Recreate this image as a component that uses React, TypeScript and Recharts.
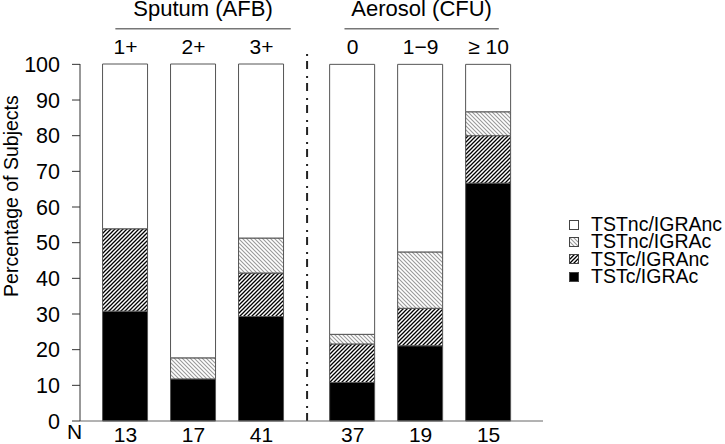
import { BarChart, Bar, XAxis, YAxis, Legend, ReferenceLine, Label } from 'recharts';

const categories = ['1+', '2+', '3+', '0', '1\u22129', '\u2265 10'];
const groupNames = ['Sputum (AFB)', 'Aerosol (CFU)'];
const groupOf = [0, 0, 0, 1, 1, 1];
const nValues = [13, 17, 41, 37, 19, 15];

// percentages, bottom of the stack first
const tstcIgrac = [30.8, 11.8, 29.3, 10.8, 21.1, 66.7];
const tstcIgranc = [23.1, 0, 12.2, 10.8, 10.5, 13.3];
const tstncIgrac = [0, 5.9, 9.8, 2.7, 15.8, 6.7];
const tstncIgranc = [46.2, 82.4, 48.8, 75.7, 52.6, 13.3];
const yTicks = [0, 10, 20, 30, 40, 50, 60, 70, 80, 90, 100];

const GROUP_GAP = 0.34;
const positions = categories.map((_, i) => i + groupOf[i] * GROUP_GAP);

const data = categories.map((cat, i) => ({
  pos: positions[i],
  cat,
  n: nValues[i],
  tstcIgrac: tstcIgrac[i],
  tstcIgranc: tstcIgranc[i],
  tstncIgrac: tstncIgrac[i],
  tstncIgranc: tstncIgranc[i],
}));

const font = '"Liberation Sans", Arial, sans-serif';
const divider = (positions[2] + positions[3]) / 2;
const groupSpans = [
  [positions[0] - 0.15, positions[2] + 0.43],
  [positions[3] - 0.12, positions[5] + 0.15],
];

const LegendContent = (props: any) => {
  const items = [...(props.payload || [])].reverse();
  return (
    <div style={{ fontFamily: font, fontSize: 19.5, color: '#000' }}>
      {items.map((it: any) => (
        <div key={it.value} style={{ display: 'flex', alignItems: 'center', height: 17.3, whiteSpace: 'nowrap' }}>
          <svg width={23} height={12} style={{ flexShrink: 0 }}>
            <rect x={1.5} y={1.5} width={9} height={9} fill={it.color} stroke="#444" strokeWidth={1} />
          </svg>
          <span style={{ display: 'inline-block', height: 17.3, lineHeight: '17.3px', flexShrink: 0 }}>{it.value}</span>
        </div>
      ))}
    </div>
  );
};

const App = () => {
  return (
    <div style={{ position: 'absolute', left: 0, top: 0, width: 725, height: 444, overflow: 'hidden' }}>
      <BarChart
        width={725}
        height={444}
        data={data}
        margin={{ top: 0, right: 182, bottom: 0, left: 0 }}
        barSize={45}
        style={{ fontFamily: font }}
      >
        <defs>
          <pattern id="dense" patternUnits="userSpaceOnUse" width={4} height={4}>
            <rect width={4} height={4} fill="#fff" />
            <path d="M-1,1 l2,-2 M0,4 l4,-4 M3,5 l2,-2" stroke="#000" strokeWidth={1.3} />
          </pattern>
          <pattern id="light" patternUnits="userSpaceOnUse" width={4} height={4}>
            <rect width={4} height={4} fill="#fff" />
            <path d="M-1,3 l2,2 M0,0 l4,4 M3,-1 l2,2" stroke="#9a9a9a" strokeWidth={1.1} />
          </pattern>
        </defs>
        <XAxis
          xAxisId="top"
          orientation="top"
          type="number"
          dataKey="pos"
          domain={[-0.67, 6.14]}
          allowDataOverflow
          ticks={positions}
          tickFormatter={(v: number) => categories[positions.indexOf(v)]}
          height={64}
          axisLine={false}
          tickLine={false}
          tickSize={0}
          tickMargin={10}
          tick={{ fill: '#000', fontSize: 21 }}
          interval={0}
        />
        <XAxis
          xAxisId="bottom"
          type="number"
          dataKey="pos"
          domain={[-0.67, 6.14]}
          allowDataOverflow
          ticks={positions}
          tickFormatter={(v: number) => String(nValues[positions.indexOf(v)])}
          height={23}
          axisLine={{ stroke: '#666' }}
          tickLine={false}
          tickSize={0}
          tickMargin={6}
          tick={{ fill: '#000', fontSize: 21 }}
          interval={0}
        >
          <Label
            content={(p: any) => (
              <text x={74.5} y={p.viewBox.y + 18} textAnchor="middle" fontSize={21} fill="#000">
                N
              </text>
            )}
          />
        </XAxis>
        <YAxis
          type="number"
          domain={[0, 100]}
          ticks={yTicks}
          width={80}
          axisLine={{ stroke: '#333' }}
          tickLine={{ stroke: '#333' }}
          tickSize={8}
          tickMargin={12}
          tick={{ fill: '#000', fontSize: 21.5 }}
          interval={0}
        >
          <Label
            content={(p: any) => {
              const vb = p.viewBox;
              return (
                <text
                  transform={`translate(${vb.x + 11},${vb.y + vb.height * 0.37}) rotate(-90)`}
                  textAnchor="middle"
                  dominantBaseline="central"
                  fontSize={19.5}
                  fill="#000"
                >
                  Percentage of Subjects
                </text>
              );
            }}
          />
        </YAxis>
        <Legend
          content={LegendContent}
          layout="vertical"
          align="center"
          verticalAlign="middle"
          wrapperStyle={{ position: 'absolute', left: 568, top: 216, width: 157 }}
        />
        <Bar xAxisId="bottom" dataKey="tstcIgrac" name="TSTc/IGRAc" stackId="s" fill="#000" stroke="#555" strokeWidth={1} isAnimationActive={false} />
        <Bar xAxisId="bottom" dataKey="tstcIgranc" name="TSTc/IGRAnc" stackId="s" fill="url(#dense)" stroke="#555" strokeWidth={1} isAnimationActive={false} />
        <Bar xAxisId="bottom" dataKey="tstncIgrac" name="TSTnc/IGRAc" stackId="s" fill="url(#light)" stroke="#555" strokeWidth={1} isAnimationActive={false} />
        <Bar xAxisId="bottom" dataKey="tstncIgranc" name="TSTnc/IGRAnc" stackId="s" fill="#fff" stroke="#555" strokeWidth={1} isAnimationActive={false} />
        <ReferenceLine
          xAxisId="bottom"
          segment={[{ x: divider, y: 0 }, { x: divider, y: 103 }]}
          ifOverflow="visible"
          stroke="#222"
          strokeWidth={2}
          strokeDasharray="8 5 2 7"
        />
        {groupSpans.map((span, g) => (
          <ReferenceLine
            key={groupNames[g]}
            xAxisId="bottom"
            segment={[{ x: span[0], y: 110 }, { x: span[1], y: 110 }]}
            ifOverflow="visible"
            stroke="#777"
            strokeWidth={1.5}
            label={{ value: groupNames[g], position: 'top', offset: 13, fill: '#000', fontSize: 22 }}
          />
        ))}
      </BarChart>
    </div>
  );
};

export default App;
